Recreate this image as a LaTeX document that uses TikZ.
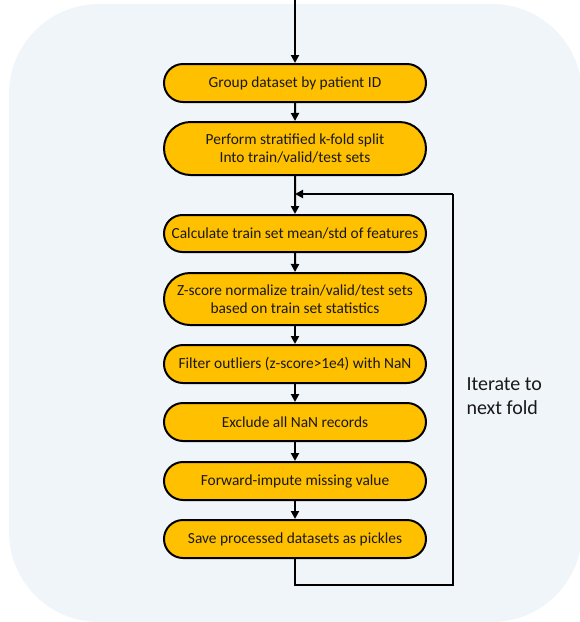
\documentclass[tikz,border=0pt]{standalone}
\usepackage{fontspec}
\setmainfont{Carlito}
\usepackage{tikz}
\usetikzlibrary{arrows.meta,shapes.misc}

\definecolor{panelbg}{RGB}{240,245,249}
\definecolor{stepgold}{RGB}{255,192,0}
\definecolor{steptext}{RGB}{25,25,25}

\tikzset{
  stepbox/.style={rounded rectangle, draw=black, line width=2pt, fill=stepgold,
    minimum width=262pt, inner xsep=0pt, inner ysep=0pt, align=center,
    text=steptext, font=\fontsize{15.4}{18}\selectfont},
  flow/.style={line width=2pt, -{Triangle[length=8pt,width=8pt]}},
  loop/.style={line width=2pt}
}

\begin{document}
\begin{tikzpicture}[x=1pt,y=-1pt]
     \useasboundingbox (0,0) rectangle (580,622);
     \fill[panelbg, rounded corners=90pt] (9,4) rectangle (582,622);
     \node[stepbox, minimum height=38pt] (group)  at (295, 83.0) {Group dataset by patient ID};
     \node[stepbox, minimum height=53pt] (split)  at (295,148.5) {Perform stratified k-fold split\\Into train/valid/test sets};
     \node[stepbox, minimum height=37pt] (stats)  at (295,233.5) {Calculate train set mean/std of features};
     \node[stepbox, minimum height=52pt] (zscore) at (295,299.0) {Z-score normalize train/valid/test sets\\based on train set statistics};
     \node[stepbox, minimum height=38pt] (filter) at (295,364.0) {Filter outliers (z-score>1e4) with NaN};
     \node[stepbox, minimum height=38pt] (nanrec) at (295,422.0) {Exclude all NaN records};
     \node[stepbox, minimum height=38pt] (impute) at (295,481.0) {Forward-impute missing value};
     \node[stepbox, minimum height=38pt] (save)   at (295,539.0) {Save processed datasets as pickles};
     \coordinate (start)  at (295,0);
     \coordinate (join)   at (295,194);
     \coordinate (bottom) at (295,585);
     \coordinate (corner) at (453,585);
     \coordinate (top)    at (453,194);
     \draw[flow] (start) -- (group);
     \draw[flow] (group) -- (split);
     \draw[flow] (split) -- (stats);
     \draw[flow] (stats) -- (zscore);
     \draw[flow] (zscore) -- (filter);
     \draw[flow] (filter) -- (nanrec);
     \draw[flow] (nanrec) -- (impute);
     \draw[flow] (impute) -- (save);
     \draw[loop] (save) -- (bottom) -- (corner) -- (top);
     \draw[flow] (top) -- (join);
     \node[anchor=west, align=left, text=steptext, font=\fontsize{20}{24}\selectfont] (iter) at (463,396) {Iterate to\\next fold};
\end{tikzpicture}
\end{document}
